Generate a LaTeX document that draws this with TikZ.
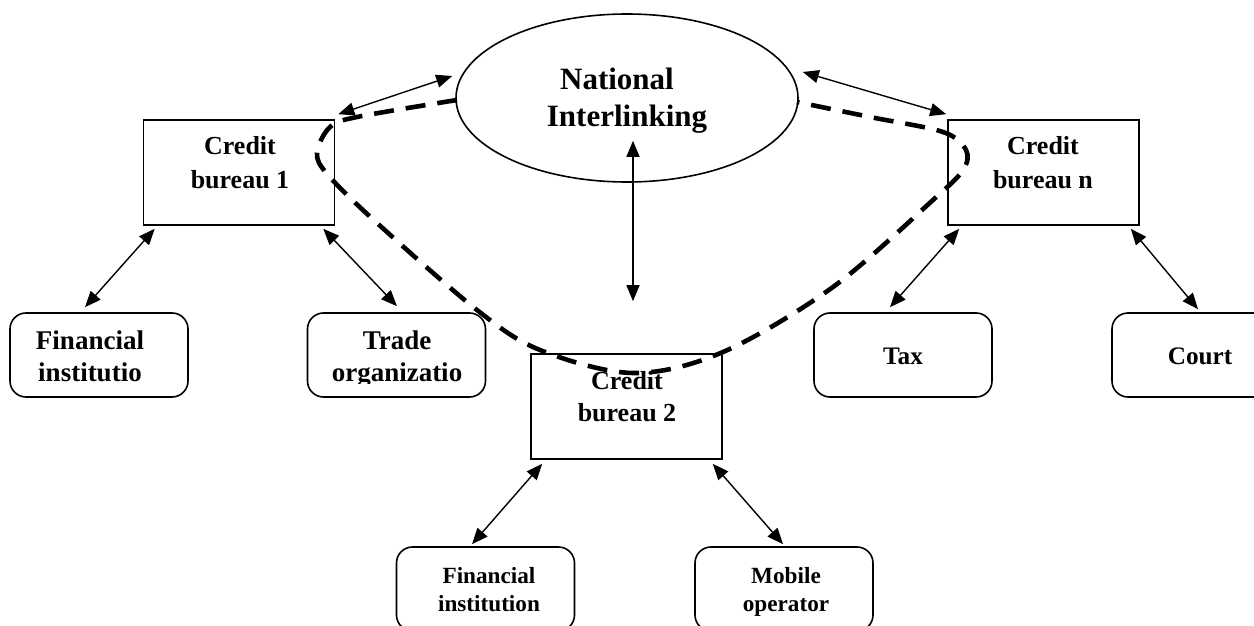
\documentclass[tikz,border=0pt]{standalone}
\usepackage{fontspec}
\setmainfont{Liberation Serif}
\usetikzlibrary{arrows.meta,shapes.geometric}
\begin{document}
\begin{tikzpicture}[x=0.5pt,y=-0.5pt,
  bx/.style={draw,line width=0.8pt,inner sep=0pt,minimum width=95.5pt,minimum height=52.5pt},
  rbx/.style={draw,line width=0.8pt,rounded corners=8pt,inner sep=0pt,minimum width=89pt,minimum height=42pt},
  lbl/.style={inner sep=0pt,text height=0.66em,text depth=0pt},
  big/.style={lbl,font=\fontsize{15.5}{17}\selectfont\bfseries},
  mid/.style={lbl,font=\fontsize{13}{15}\selectfont\bfseries},
  top/.style={lbl,font=\fontsize{13.5}{15}\selectfont\bfseries},
  rgt/.style={lbl,font=\fontsize{12.6}{15}\selectfont\bfseries},
  sml/.style={lbl,font=\fontsize{11.6}{13}\selectfont\bfseries},
  arr/.style={line width=0.7pt,{Triangle[length=8pt,width=6.5pt]}-{Triangle[length=8pt,width=6.5pt]}},
  dsh/.style={line width=2.3pt,dash pattern=on 10pt off 6pt}]
\useasboundingbox[fill=white] (0,0) rectangle (1254,626);

% shapes
\node[ellipse,draw,line width=0.8pt,minimum width=171pt,minimum height=84pt,inner sep=0pt] (ni) at (627,98) {};
\node[bx] (cb1) at (239,172.5) {};
\node[bx] (cbn) at (1043.5,172.5) {};
\node[bx] (cb2) at (626.5,406.5) {};
\node[rbx] (fi1) at (99,355) {};
\node[rbx] (tr) at (396.5,355) {};
\node[rbx] (tax) at (903,355) {};
\node[rbx] (ct) at (1201,355) {};
\node[rbx] (fi2) at (485.5,589) {};
\node[rbx] (mo) at (784,589) {};

% labels
\node[big] (l1) at (617,83) {National};
\node[big] (l2) at (627,120) {Interlinking};
\node[mid] (l3) at (240,148) {Credit};
\node[mid] (l4) at (240,182) {bureau 1};
\node[mid] (l5) at (1043,148) {Credit};
\node[mid] (l6) at (1043,182) {bureau n};
\node[mid] (l7) at (627,383) {Credit};
\node[mid] (l8) at (627,415) {bureau 2};
\begin{scope}
\clip (0,0) rectangle (1254,383);
\node[top] (l9) at (90,343) {Financial};
\node[top] (l10) at (90,375) {institutio};
\node[top] (l11) at (397,343) {Trade};
\node[top] (l12) at (397,375) {organizatio};
\end{scope}
\node[rgt] (l13) at (903,358) {Tax};
\node[rgt] (l14) at (1200,358) {Court};
\node[sml] (l15) at (489,577) {Financial};
\node[sml] (l16) at (489,605) {institution};
\node[sml] (l17) at (786,577) {Mobile};
\node[sml] (l18) at (786,605) {operator};

% connectors
\draw[arr] ([shift={(3,-5)}]cb1.north east) -- ([shift={(-3,-22)}]ni.west);
\draw[arr] ([shift={(4,-26)}]ni.east) -- ([shift={(-1,-5)}]cbn.north west);
\draw[arr] ([shift={(6,-42)}]ni.south) -- ([shift={(6.5,-52)}]cb2.north);
\draw[arr] ([shift={(12,3)}]cb1.south west) -- ([shift={(-14,-5)}]fi1.north);
\draw[arr] ([shift={(-12,3)}]cb1.south east) -- ([shift={(0.5,-6)}]tr.north);
\draw[arr] ([shift={(12,3)}]cbn.south west) -- ([shift={(-13,-5)}]tax.north);
\draw[arr] ([shift={(-9,3)}]cbn.south east) -- ([shift={(-3,-3)}]ct.north);
\draw[arr] ([shift={(12,4)}]cb2.south west) -- ([shift={(-13.5,-2)}]fi2.north);
\draw[arr] ([shift={(-10,4)}]cb2.south east) -- ([shift={(-1,-2)}]mo.north);

% dashed loop
\draw[dsh] plot[smooth,tension=0.55] coordinates {(457,100) (357,117) (330,127) (317,153) (328,175) (377,223) (477,310) (540,350) (633,373) (723,352) (833,287) (933,200) (963,170) (966,150) (943,132) (870,117) (797,102)};
\end{tikzpicture}
\end{document}
